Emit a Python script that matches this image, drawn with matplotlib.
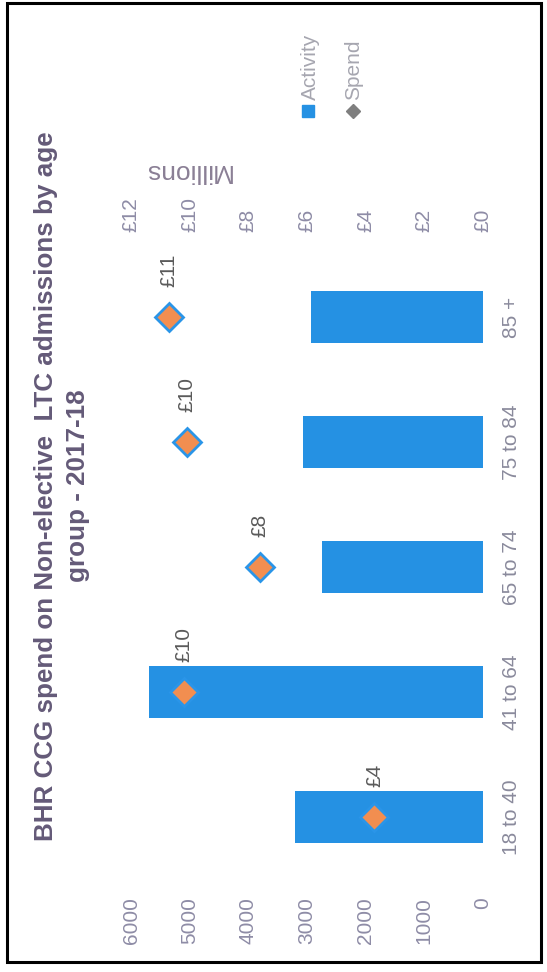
import matplotlib
matplotlib.use("Agg")
import matplotlib.pyplot as plt
from matplotlib.lines import Line2D
from matplotlib.patches import Rectangle

plt.rcParams['font.family'] = ['Liberation Sans', 'DejaVu Sans']

# data (chart is a scanned page turned on its side)
age_groups = ["18 to 40", "41 to 64", "65 to 74", "75 to 84", "85 +"]
activity = [3200, 5700, 2750, 3070, 2930]
spend_m = [3.7, 10.2, 7.6, 10.1, 10.7]
activity_ticks = [0, 1000, 2000, 3000, 4000, 5000, 6000]
spend_ticks = [0, 2, 4, 6, 8, 10, 12]

W, H = 547, 972
BLUE = '#2591e3'
ORANGE = '#f28e50'
TICK = '#8e8ca6'
TITLE = '#645a78'

fig = plt.figure(figsize=(W / 100, H / 100), dpi=100)
fig.patch.set_facecolor('white')

def px(x, y):
    return x / W, (H - y) / H

ax = fig.add_axes([131 / W, (H - 879.5) / H, 352 / W, 625 / H])
ypos = list(range(len(age_groups)))
ax.barh(ypos, activity, height=0.41, color=BLUE)
ax.set_xlim(6000, 0)
ax.set_ylim(-0.5, 4.5)
for s in ax.spines.values():
    s.set_visible(False)
ax.set_xticks(activity_ticks)
ax.set_xticklabels([str(t) for t in activity_ticks], rotation=90, va='top', ha='center')
ax.tick_params(axis='x', length=0, pad=12.5, labelsize=15, labelcolor=TICK)
ax.yaxis.tick_right()
ax.set_yticks(ypos)
ax.set_yticklabels(age_groups, rotation=90, va='center', ha='left')
ax.tick_params(axis='y', length=0, pad=13.5, labelsize=15, labelcolor='#8a8a9c')

ax2 = ax.twiny()
ax2.set_xlim(12, 0)
ax2.set_ylim(-0.5, 4.5)
for s in ax2.spines.values():
    s.set_visible(False)
ax2.plot(spend_m, ypos, 'D', ms=14, mfc=ORANGE, mec='#2a95e8', mew=2, ls='none', zorder=3)
ax2.set_xticks(spend_ticks)
ax2.set_xticklabels([f"£{t}" for t in spend_ticks], rotation=90, va='bottom', ha='center')
ax2.tick_params(axis='x', length=0, pad=16, labelsize=15, labelcolor=TICK)
for v, y in zip(spend_m, ypos):
    ax2.annotate(f"£{v:.0f}", (v, y), xytext=(0, 21.5), textcoords='offset points',
                 rotation=90, ha='center', va='bottom', fontsize=15, color='#5a5a5a')

# title
fig.text(*px(62, 486), "BHR CCG spend on Non-elective  LTC admissions by age\ngroup - 2017-18",
         rotation=90, ha='center', va='center', ma='center', fontsize=18.7,
         fontweight='bold', color=TITLE, linespacing=1.4)

# secondary axis unit
fig.text(*px(187, 171), "Millions", rotation=180, ha='center', va='center',
         fontsize=19, color='#8a7f95')

# legend
fig.add_artist(Line2D([308 / W], [(H - 111) / H], marker='s', ms=8.5, color=BLUE,
                      ls='none', transform=fig.transFigure))
fig.text(*px(310, 100), "Activity", rotation=90, ha='center', va='bottom',
         fontsize=15, color='#a6a6b0')
fig.add_artist(Line2D([353 / W], [(H - 111) / H], marker='D', ms=7, color='#7f7f7f',
                      ls='none', transform=fig.transFigure))
fig.text(*px(354, 100), "Spend", rotation=90, ha='center', va='bottom',
         fontsize=15, color='#a6a6b0')

# page frame from the scan
fig.add_artist(Rectangle(px(7, 962), (541 - 7) / W, (962 - 3) / H, fill=False,
                         ec='black', lw=2.2, transform=fig.transFigure))

fig.savefig("out.png", dpi=100)
